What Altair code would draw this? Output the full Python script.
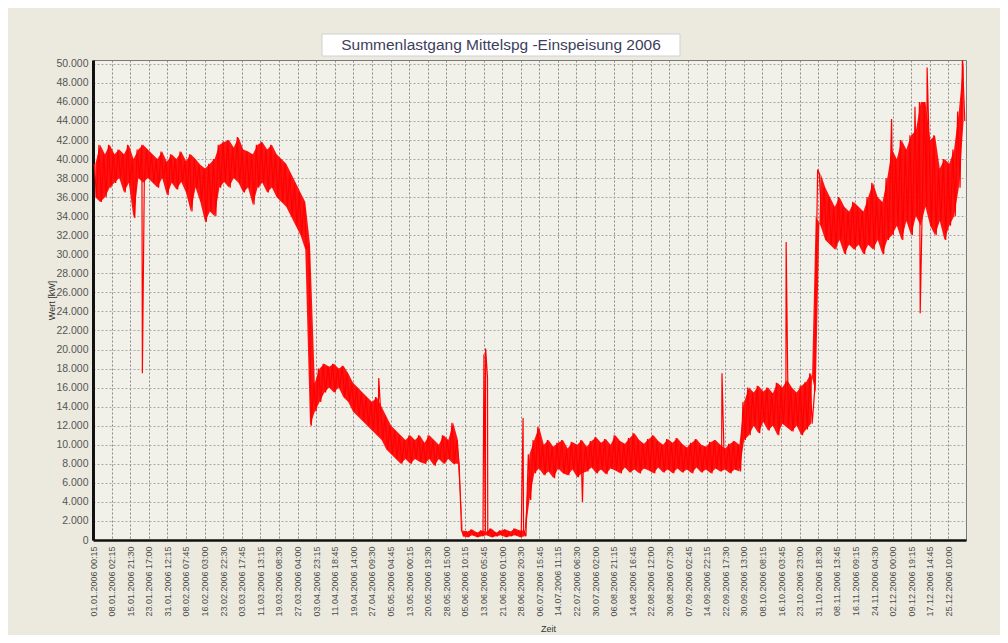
import json
import pandas as pd
import altair as alt

TITLE = "Summenlastgang Mittelspg -Einspeisung 2006"
Y_TITLE = "Wert [kW]"
X_TITLE = "Zeit"

LABELS = [
    "01.01.2006 00:15", "08.01.2006 02:15", "15.01.2006 21:30", "23.01.2006 17:00",
    "31.01.2006 12:15", "08.02.2006 07:45", "16.02.2006 03:00", "23.02.2006 22:30",
    "03.03.2006 17:45", "11.03.2006 13:15", "19.03.2006 08:30", "27.03.2006 04:00",
    "03.04.2006 23:15", "11.04.2006 18:45", "19.04.2006 14:00", "27.04.2006 09:30",
    "05.05.2006 04:45", "13.05.2006 00:15", "20.05.2006 19:30", "28.05.2006 15:00",
    "05.06.2006 10:15", "13.06.2006 05:45", "21.06.2006 01:00", "28.06.2006 20:30",
    "06.07.2006 15:45", "14.07.2006 11:15", "22.07.2006 06:30", "30.07.2006 02:00",
    "06.08.2006 21:15", "14.08.2006 16:45", "22.08.2006 12:00", "30.08.2006 07:30",
    "07.09.2006 02:45", "14.09.2006 22:15", "22.09.2006 17:30", "30.09.2006 13:00",
    "08.10.2006 08:15", "16.10.2006 03:45", "23.10.2006 23:00", "31.10.2006 18:30",
    "08.11.2006 13:45", "16.11.2006 09:15", "24.11.2006 04:30", "02.12.2006 00:00",
    "09.12.2006 19:15", "17.12.2006 14:45", "25.12.2006 10:00",
]
LABEL_STEP = 7.796  # days between labelled ticks

# Two-day blocks: upper and lower reading of each block (thousand kW)
HI = [
    39.5, 41.5, 40.5, 41.5, 40.5, 41, 40.5, 41.5, 40, 41,
    41.5, 41, 40.5, 40, 40.8, 39.7, 40.5, 40, 40.8, 39.8,
    40.5, 40, 39.4, 39, 39.5, 40, 41.5, 41.8, 42, 41.2,
    42.3, 41, 40.8, 40.5, 41.5, 41.8, 41, 41.5, 40.5, 40,
    39.5, 38.5, 37.5, 36.5, 35.5, 31, 16.5, 18, 18.5, 18.2,
    18.5, 18, 18.3, 17.5, 16.5, 16, 15.5, 15, 14.5, 15,
    14, 13, 12, 11.5, 11, 10.5, 11, 10.5, 11, 10.2,
    11, 10.5, 10, 11, 10.5, 12.3, 10.5, 1.0, 0.9, 1.1,
    0.8, 1.0, 0.9, 1.2, 0.8, 1.0, 1.1, 0.9, 1.2, 1.0,
    1.0, 9, 10.5, 11.9, 10, 10.5, 9.8, 10.2, 10.5, 9.6,
    10.3, 10, 10.5, 9.8, 10.4, 10.8, 10.2, 10.6, 10, 11,
    10.4, 10.1, 10.7, 11.2, 10.5, 10.1, 10.6, 11, 10.4, 10,
    10.6, 10.2, 10.7, 10.1, 9.7, 10.2, 10.6, 10, 9.8, 10.3,
    10.5, 10, 9.6, 10.1, 10.4, 10, 14.5, 16, 15.5, 16.2,
    15.6, 16, 15.4, 16.5, 16, 16.8, 16, 15.5, 16.2, 16.6,
    17.5, 15.5, 38.5, 37, 36, 35, 36, 35, 34.5, 35.5,
    35, 34.5, 36, 37.5, 36, 35.5, 38, 41, 40, 42,
    41, 42.5, 43, 46, 46, 42, 42.5, 39, 40, 39.5,
    41, 45, 50.4,
]
LO = [
    36, 35.5, 36, 37, 37.5, 38, 36.5, 37.5, 33.8, 38,
    37.5, 38, 37.5, 37, 38, 36.2, 37.5, 36.8, 37.6, 36.5,
    34.5, 37, 35.5, 33.4, 34.5, 34, 37, 37.6, 37, 38,
    37.5, 36.5, 37, 35.2, 37, 37.5, 36.5, 37, 36, 35.5,
    35, 34, 33, 32, 30.5, 12, 13.5, 14.5, 15.5, 16,
    15.5, 16, 15, 14.5, 13.5, 13, 12.5, 12, 11.5, 11,
    10.5, 9.5, 9, 8.5, 8, 8.5, 8, 8.5, 8.2, 8,
    8.5, 7.8, 8.5, 8, 8.5, 8, 8, 0.4, 0.3, 0.5,
    0.3, 0.4, 0.5, 0.3, 0.4, 0.5, 0.3, 0.4, 0.5, 0.3,
    0.4, 4.2, 7, 7.5, 6.8, 7.2, 6.5, 7.5, 7, 6.8,
    7.4, 6.6, 7, 7.2, 7.6, 7, 7.4, 6.9, 7.5, 7.3,
    7, 7.6, 7.1, 7.4, 7, 7.5, 7.3, 7, 7.6, 7.1,
    7.4, 7, 7.5, 7.1, 7.4, 7, 7.6, 7.1, 7.4, 7,
    7.5, 7.2, 7.4, 7, 7.4, 7.2, 10.5, 11, 12, 11.2,
    12.4, 11.5, 12, 11, 12.2, 11.8, 11.4, 12, 11, 11.6,
    12.2, 34, 33, 31.5, 31, 30.5, 31.5, 30, 31, 30.5,
    31, 30, 31, 30.5, 31.5, 30, 31.5, 32, 33, 31.5,
    33.5, 32, 34, 33, 35, 33, 32, 33.5, 31.5, 33,
    34, 37, 44,
]
# Isolated spikes / dips (day of year, thousand kW)
SPIKE_DAY = [20.7, 119.8, 163.9, 164.6, 165.4, 180.3, 205.2, 263.7, 290.6,
             303.8, 334.8, 344.6, 346.8, 349.7]
SPIKE_VAL = [17.5, 17.0, 19.5, 20.1, 17.0, 12.8, 4.0, 17.5, 31.3,
             38.9, 44.2, 45.5, 23.8, 49.6]

rows = []
band_rows = []
for i, (h, l) in enumerate(zip(HI, LO)):
    rows.append((2 * i + 0.5, h * 1000))
    rows.append((2 * i + 1.5, l * 1000))
    band_rows.append((2 * i + 1.0, l * 1000, h * 1000))
for d, v in zip(SPIKE_DAY, SPIKE_VAL):
    rows.append((d, v * 1000))
df = pd.DataFrame(rows, columns=["tag", "wert"]).sort_values("tag").reset_index(drop=True)
band = pd.DataFrame(band_rows, columns=["tag", "lo", "hi"])

FONT = "Liberation Sans"
x_label_expr = json.dumps(LABELS) + "[round(datum.value / %s)]" % LABEL_STEP

x_scale = alt.Scale(domain=[0, 366], nice=False, zero=False)
x_axis = alt.Axis(
    title=X_TITLE,
    values=[i * LABEL_STEP for i in range(len(LABELS))],
    labelExpr=x_label_expr,
    labelAngle=-90,
    labelFontSize=9,
    labelFont=FONT,
    labelColor="#4d4d4d",
    labelPadding=6,
    labelOverlap=False,
    labelFlush=False,
    ticks=False,
    domainColor="#111111",
    domainWidth=2.5,
    grid=True,
    gridColor="#8a8a8a",
    gridDash=[2, 2],
    gridWidth=1,
    titleFont=FONT,
    titleFontSize=9,
    titleFontWeight="normal",
    titleColor="#333333",
    titleX=455,
    titleY=88,
    titleBaseline="middle",
)
y_scale = alt.Scale(domain=[0, 50400], nice=False)
y_axis = alt.Axis(
    title=Y_TITLE,
    values=list(range(0, 50001, 2000)),
    labelExpr="replace(format(datum.value, ','), ',', '.')",
    labelFontSize=10.5,
    labelFont=FONT,
    labelColor="#555555",
    labelPadding=5,
    ticks=False,
    domainColor="#111111",
    domainWidth=3,
    grid=True,
    gridColor="#a8a8a8",
    gridDash=[2, 2],
    gridWidth=1,
    titleFont=FONT,
    titleFontSize=9,
    titleFontWeight="normal",
    titleColor="#333333",
    titleX=-42,
    titleY=240,
    titleBaseline="middle",
)

area = alt.Chart(band).mark_area(color="#ff0000", opacity=0.92, clip=True).encode(
    x=alt.X("tag:Q", scale=x_scale, axis=x_axis),
    y=alt.Y("lo:Q", scale=y_scale, axis=y_axis),
    y2="hi:Q",
)

line = alt.Chart(df).mark_line(
    color="#ff0000", strokeWidth=1.2, strokeJoin="bevel", clip=True
).encode(
    x=alt.X("tag:Q", scale=x_scale, axis=x_axis),
    y=alt.Y("wert:Q", scale=y_scale, axis=y_axis),
)

title_df = pd.DataFrame({"t": [TITLE]})
box = alt.Chart(title_df).mark_rect(fill="#ffffff", stroke="#d0d0d0", strokeWidth=1).encode(
    x=alt.value(229), x2=alt.value(587), y=alt.value(-26), y2=alt.value(-4)
)
title_text = alt.Chart(title_df).mark_text(
    font=FONT, fontSize=15.5, color="#3d3d5c", align="center", baseline="middle"
).encode(text="t:N", x=alt.value(408), y=alt.value(-15))

chart = alt.layer(area, line, box, title_text).properties(
    width=873,
    height=480,
    autosize=alt.AutoSizeParams(type="none"),
    padding={"left": 85, "top": 52, "right": 34, "bottom": 95},
    background="#ECEADF",
).configure_view(fill="#F1F0E9", stroke="#7a7a7a", strokeWidth=1)

chart.save("out.html", embed_options={"renderer": "svg", "actions": False})
